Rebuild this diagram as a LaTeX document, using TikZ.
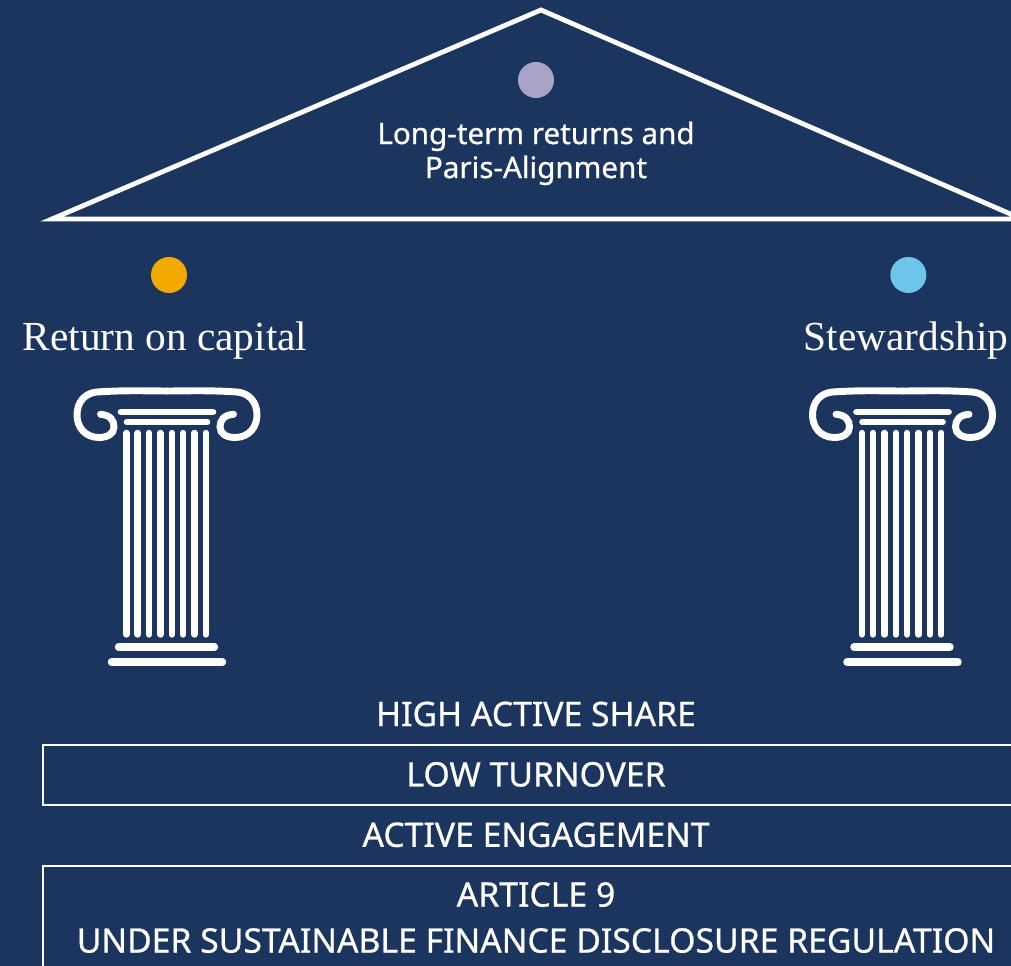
\documentclass[tikz,border=0pt]{standalone}
\usepackage{fontspec}
\setsansfont[FakeBold=0.7]{Noto Sans}
\setmainfont{Liberation Serif}
\usetikzlibrary{positioning}
\definecolor{navy}{HTML}{1C355E}
\definecolor{lilac}{HTML}{A9A3C5}
\definecolor{amber}{HTML}{F2A900}
\definecolor{sky}{HTML}{6EC4EA}
\tikzset{
  pics/column/.style={code={
    \foreach \s in {1,-1}
      \draw[xscale=\s,line width=5.2pt,line cap=round] (-66.5,3.3) .. controls (-57,4) and (-53,9) .. (-53,16)
        .. controls (-53,23) and (-60,26.5) .. (-68,26.5) .. controls (-82,26.5) and (-90,16) .. (-90,4)
        .. controls (-90,-9) and (-82,-18) .. (-70,-19) .. controls (-40,-21) and (-20,-20) .. (0,-20);
    \draw[line width=5pt,line cap=round] (-46,1) -- (46,1);
    \draw[line width=4.2pt,line cap=round] (-40.5,11) -- (40.5,11);
    \foreach \i in {0,...,7}
      \draw[line width=4.8pt,line cap=round] (-40.7+\i*11.35,22) -- (-40.7+\i*11.35,223.5);
    \draw[line width=5.6pt,line cap=round] (-48.5,236) -- (47.5,236);
    \draw[line width=5.6pt,line cap=round] (-55.5,251) -- (55.5,251);
  }}
}
\begin{document}
\begin{tikzpicture}[x=0.75pt,y=-0.75pt,white,node distance=45.3pt]
  \tikzstyle{every node}=[text=white,inner sep=0pt,align=center]
  \tikzstyle{caption}=[font=\sffamily\fontsize{22.2}{25.5}\selectfont]
  \tikzstyle{banner}=[font=\sffamily\fontsize{25.3}{30}\selectfont]
  \tikzstyle{pillar}=[font=\rmfamily\fontsize{31}{33}\selectfont]
  \tikzstyle{dot}=[circle,minimum size=27pt,draw=none]
  \fill[navy] (0,0) rectangle (1011,966);
  \clip (0,0) rectangle (1011,966);
  % roof
  \draw[line width=3.6pt,line join=miter] (541,10) -- (52,219) -- (1022,219) -- cycle;
  \node[dot,fill=lilac] (top) at (536,80) {};
  \node[caption,below=55pt of top.center,anchor=center] (goal) {Long-term returns and\\Paris-Alignment};
  % pillars
  \node[dot,fill=amber] (left) at (169,275) {};
  \node[dot,fill=sky,right=554.5pt of left.center,anchor=center] (right) {};
  \node[pillar] (ret) at (165,341) {Return on capital};
  \node[pillar] (stew) at (906,341) {Stewardship};
  \pic at (167,411) {column};
  \pic at (902.5,411) {column};
  % base
  \draw[line width=1.5pt] (1020,745) -- (43,745) -- (43,805) -- (1020,805);
  \draw[line width=1.5pt] (1020,866) -- (43,866) -- (43,970);
  \node[banner] (share) at (536,714) {HIGH ACTIVE SHARE};
  \node[banner,below of=share] (turnover) {LOW TURNOVER};
  \node[banner,below of=turnover] (engage) {ACTIVE ENGAGEMENT};
  \node[banner,below of=engage,yshift=0.5pt] (article) {ARTICLE 9};
  \node[banner,below=34.5pt of article.center,anchor=center] (sfdr) {UNDER SUSTAINABLE FINANCE DISCLOSURE REGULATION};
\end{tikzpicture}
\end{document}
